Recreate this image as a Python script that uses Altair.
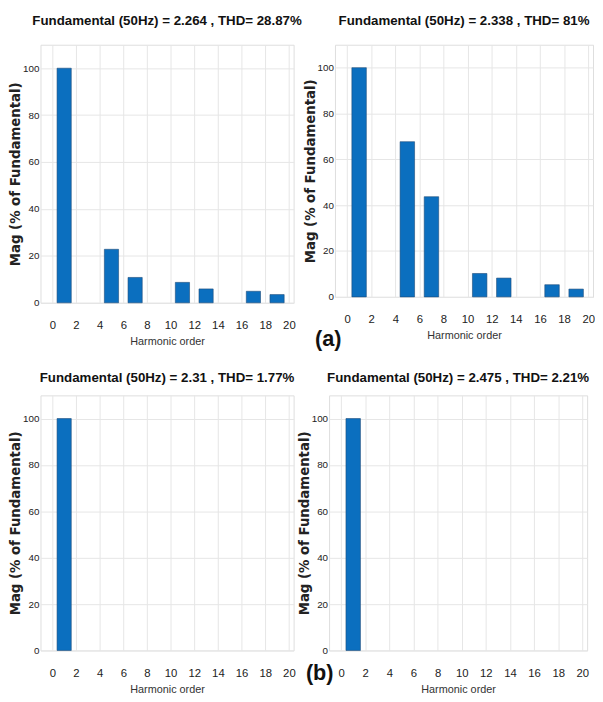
import altair as alt
import pandas as pd

harmonics = [1, 5, 7, 11, 13, 17, 19]
mag_a1 = [100, 22.8, 10.8, 8.7, 5.9, 4.9, 3.5]
mag_a2 = [100, 67.7, 43.7, 10.2, 8.2, 5.3, 3.4]
harmonics_b = [1]
mag_b1 = [100]
mag_b2 = [100]

titles = [
    "Fundamental (50Hz) = 2.264 , THD= 28.87%",
    "Fundamental (50Hz) = 2.338 , THD= 81%",
    "Fundamental (50Hz) = 2.31 , THD= 1.77%",
    "Fundamental (50Hz) = 2.475 , THD= 2.21%",
]
x_ticks = list(range(0, 21, 2))
y_ticks = list(range(0, 101, 20))

SANS = "Liberation Sans, Arial, sans-serif"
BAR_HALF = 0.6


def panel(h, m, title, w, hgt, title_dy):
    df = pd.DataFrame({"h": h, "mag": m})
    return (
        alt.Chart(df)
        .transform_calculate(lo=f"datum.h - {BAR_HALF}", hi=f"datum.h + {BAR_HALF}")
        .mark_bar(color="#0b6fbf", stroke="#1d4a78", strokeWidth=0.6)
        .encode(
            x=alt.X(
                "lo:Q",
                scale=alt.Scale(domain=[-1, 20.4], nice=False, zero=False),
                axis=alt.Axis(
                    values=x_ticks,
                    title="Harmonic order",
                    titleFont=SANS,
                    titleFontWeight="normal",
                    titleFontSize=11,
                    titleColor="#333",
                    titlePadding=5,
                    labelFont=SANS,
                    labelFontSize=11.5,
                    labelColor="#222",
                    labelPadding=17,
                    ticks=False,
                    domain=False,
                    grid=True,
                    gridColor="#e6e6e6",
                ),
            ),
            x2="hi:Q",
            y=alt.Y(
                "mag:Q",
                scale=alt.Scale(domain=[0, 110], nice=False),
                axis=alt.Axis(
                    values=y_ticks,
                    title="Mag (% of Fundamental)",
                    titleFont="DejaVu Sans",
                    titleFontWeight="bold",
                    titleFontSize=13.5,
                    titleColor="#222",
                    titlePadding=0,
                    labelFont=SANS,
                    labelFontSize=10,
                    labelColor="#222",
                    labelPadding=1.5,
                    ticks=False,
                    domain=False,
                    grid=True,
                    gridColor="#e6e6e6",
                ),
            ),
            y2=alt.datum(0),
        )
        .properties(
            width=w,
            height=hgt,
            title=alt.TitleParams(
                title,
                font=SANS,
                fontSize=13.5,
                fontWeight="bold",
                color="#111",
                anchor="middle",
                offset=0,
                dy=title_dy,
            ),
        )
    )


p1 = panel(harmonics, mag_a1, titles[0], 257, 262, -18)
p2 = panel(harmonics, mag_a2, titles[1], 262, 256, -18)
p3 = panel(harmonics_b, mag_b1, titles[2], 257, 259, -11)
p4 = panel(harmonics_b, mag_b2, titles[3], 262, 259, -11)

row_a = alt.hconcat(p1, p2, spacing=0).properties(
    title=alt.TitleParams("(a)", orient="bottom", anchor="middle", fontSize=22,
                          font=SANS, fontWeight="bold", color="#111", dy=-22, dx=27)
)
row_b = alt.hconcat(p3, p4, spacing=0).properties(
    title=alt.TitleParams("(b)", orient="bottom", anchor="middle", fontSize=22,
                          font=SANS, fontWeight="bold", color="#111", dy=-36, dx=21)
)

chart = (
    alt.vconcat(row_a, row_b, spacing=21)
    .properties(padding={"left": 0, "top": 0, "right": 0, "bottom": 0})
    .configure_view(stroke="#9a9a9a", strokeWidth=1)
    .configure(background="white")
)

chart.save("out.html", embed_options={"renderer": "svg", "actions": False})
